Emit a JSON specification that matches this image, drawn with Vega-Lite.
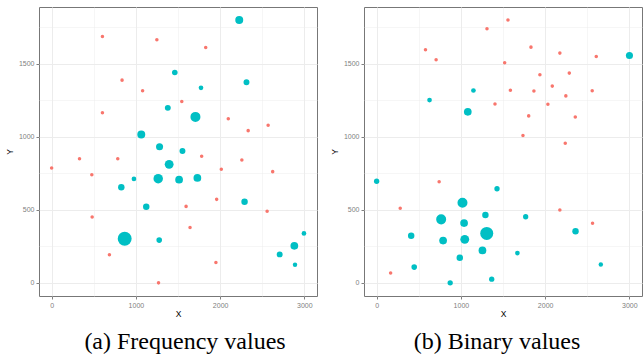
{
  "$schema": "https://vega.github.io/schema/vega-lite/v6.json",
  "padding": {"left": 4, "top": 6, "right": 0, "bottom": 0},
  "background": "white",
  "datasets": {
    "freq": [
      {"x": 603, "y": 1688, "g": "A", "w": 16},
      {"x": 1249, "y": 1666, "g": "A", "w": 16},
      {"x": 1829, "y": 1613, "g": "A", "w": 16},
      {"x": 836, "y": 1389, "g": "A", "w": 16},
      {"x": 1080, "y": 1316, "g": "A", "w": 16},
      {"x": 1545, "y": 1242, "g": "A", "w": 16},
      {"x": 603, "y": 1165, "g": "A", "w": 16},
      {"x": 2097, "y": 1124, "g": "A", "w": 16},
      {"x": 2570, "y": 1080, "g": "A", "w": 16},
      {"x": 2333, "y": 1043, "g": "A", "w": 16},
      {"x": 1781, "y": 867, "g": "A", "w": 16},
      {"x": 331, "y": 851, "g": "A", "w": 16},
      {"x": 785, "y": 851, "g": "A", "w": 16},
      {"x": 2258, "y": 842, "g": "A", "w": 16},
      {"x": 0, "y": 787, "g": "A", "w": 16},
      {"x": 2014, "y": 778, "g": "A", "w": 16},
      {"x": 2624, "y": 762, "g": "A", "w": 16},
      {"x": 477, "y": 741, "g": "A", "w": 16},
      {"x": 1596, "y": 524, "g": "A", "w": 16},
      {"x": 1959, "y": 572, "g": "A", "w": 16},
      {"x": 2558, "y": 490, "g": "A", "w": 16},
      {"x": 481, "y": 451, "g": "A", "w": 16},
      {"x": 1643, "y": 380, "g": "A", "w": 16},
      {"x": 686, "y": 192, "g": "A", "w": 16},
      {"x": 1950, "y": 140, "g": "A", "w": 16},
      {"x": 1269, "y": 0, "g": "A", "w": 16},
      {"x": 2227, "y": 1801, "g": "B", "w": 81},
      {"x": 1462, "y": 1441, "g": "B", "w": 40},
      {"x": 2313, "y": 1375, "g": "B", "w": 45},
      {"x": 1773, "y": 1336, "g": "B", "w": 28},
      {"x": 1379, "y": 1199, "g": "B", "w": 45},
      {"x": 1707, "y": 1137, "g": "B", "w": 128},
      {"x": 1064, "y": 1016, "g": "B", "w": 81},
      {"x": 1281, "y": 933, "g": "B", "w": 64},
      {"x": 1553, "y": 904, "g": "B", "w": 45},
      {"x": 1395, "y": 812, "g": "B", "w": 100},
      {"x": 977, "y": 712, "g": "B", "w": 28},
      {"x": 1265, "y": 714, "g": "B", "w": 114},
      {"x": 1513, "y": 707, "g": "B", "w": 76},
      {"x": 1730, "y": 719, "g": "B", "w": 76},
      {"x": 827, "y": 655, "g": "B", "w": 53},
      {"x": 1123, "y": 522, "g": "B", "w": 53},
      {"x": 2290, "y": 556, "g": "B", "w": 53},
      {"x": 867, "y": 302, "g": "B", "w": 246},
      {"x": 1277, "y": 293, "g": "B", "w": 40},
      {"x": 2995, "y": 339, "g": "B", "w": 28},
      {"x": 2881, "y": 254, "g": "B", "w": 76},
      {"x": 2707, "y": 195, "g": "B", "w": 45},
      {"x": 2889, "y": 124, "g": "B", "w": 25}
    ],
    "binary": [
      {"x": 1559, "y": 1801, "g": "A", "w": 16},
      {"x": 1310, "y": 1741, "g": "A", "w": 16},
      {"x": 580, "y": 1597, "g": "A", "w": 16},
      {"x": 706, "y": 1528, "g": "A", "w": 16},
      {"x": 1832, "y": 1615, "g": "A", "w": 16},
      {"x": 2175, "y": 1574, "g": "A", "w": 16},
      {"x": 2607, "y": 1551, "g": "A", "w": 16},
      {"x": 1520, "y": 1508, "g": "A", "w": 16},
      {"x": 1938, "y": 1426, "g": "A", "w": 16},
      {"x": 2287, "y": 1437, "g": "A", "w": 16},
      {"x": 2085, "y": 1348, "g": "A", "w": 16},
      {"x": 2246, "y": 1281, "g": "A", "w": 16},
      {"x": 1588, "y": 1320, "g": "A", "w": 16},
      {"x": 1867, "y": 1314, "g": "A", "w": 16},
      {"x": 2559, "y": 1316, "g": "A", "w": 16},
      {"x": 1405, "y": 1226, "g": "A", "w": 16},
      {"x": 2033, "y": 1224, "g": "A", "w": 16},
      {"x": 1805, "y": 1144, "g": "A", "w": 16},
      {"x": 2358, "y": 1137, "g": "A", "w": 16},
      {"x": 1737, "y": 1009, "g": "A", "w": 16},
      {"x": 2239, "y": 957, "g": "A", "w": 16},
      {"x": 742, "y": 693, "g": "A", "w": 16},
      {"x": 280, "y": 511, "g": "A", "w": 16},
      {"x": 2175, "y": 499, "g": "A", "w": 16},
      {"x": 2563, "y": 408, "g": "A", "w": 16},
      {"x": 166, "y": 67, "g": "A", "w": 16},
      {"x": 3001, "y": 1558, "g": "B", "w": 64},
      {"x": 1149, "y": 1318, "g": "B", "w": 28},
      {"x": 628, "y": 1252, "g": "B", "w": 28},
      {"x": 1082, "y": 1172, "g": "B", "w": 76},
      {"x": 0, "y": 696, "g": "B", "w": 36},
      {"x": 1429, "y": 645, "g": "B", "w": 36},
      {"x": 1019, "y": 549, "g": "B", "w": 128},
      {"x": 1291, "y": 465, "g": "B", "w": 53},
      {"x": 1769, "y": 453, "g": "B", "w": 36},
      {"x": 766, "y": 435, "g": "B", "w": 128},
      {"x": 1038, "y": 410, "g": "B", "w": 76},
      {"x": 410, "y": 323, "g": "B", "w": 53},
      {"x": 1307, "y": 339, "g": "B", "w": 216},
      {"x": 2361, "y": 353, "g": "B", "w": 53},
      {"x": 789, "y": 290, "g": "B", "w": 76},
      {"x": 1046, "y": 298, "g": "B", "w": 100},
      {"x": 1256, "y": 222, "g": "B", "w": 76},
      {"x": 1671, "y": 204, "g": "B", "w": 28},
      {"x": 987, "y": 172, "g": "B", "w": 53},
      {"x": 2661, "y": 126, "g": "B", "w": 25},
      {"x": 446, "y": 108, "g": "B", "w": 40},
      {"x": 1366, "y": 25, "g": "B", "w": 36},
      {"x": 873, "y": 0, "g": "B", "w": 36}
    ]
  },
  "spacing": 11,
  "hconcat": [
    {
      "width": 278,
      "height": 289,
      "data": {"name": "freq"},
      "title": {"text": "(a) Frequency values", "orient": "bottom", "dx": 7},
      "mark": {"type": "circle", "opacity": 1},
      "encoding": {
        "x": {"field": "x", "type": "quantitative", "title": "X",
          "scale": {"domain": [-150, 3150], "nice": false, "zero": false},
          "axis": {"values": [0, 500, 1000, 1500, 2000, 2500, 3000], "format": "d",
            "labelExpr": "datum.value % 1000 === 0 ? datum.label : ''",
            "tickOpacity": {"condition": {"test": "datum.value % 1000 !== 0", "value": 0}, "value": 1},
            "gridWidth": {"condition": {"test": "datum.value % 1000 !== 0", "value": 0.5}, "value": 1}}},
        "y": {"field": "y", "type": "quantitative", "title": "Y",
          "scale": {"domain": [-90, 1890], "nice": false, "zero": false},
          "axis": {"values": [0, 250, 500, 750, 1000, 1250, 1500, 1750], "format": "d",
            "labelExpr": "datum.value % 500 === 0 ? datum.label : ''",
            "tickOpacity": {"condition": {"test": "datum.value % 500 !== 0", "value": 0}, "value": 1},
            "gridWidth": {"condition": {"test": "datum.value % 500 !== 0", "value": 0.5}, "value": 1}}},
        "color": {"field": "g", "type": "nominal", "legend": null,
          "scale": {"domain": ["A", "B"], "range": ["#F8766D", "#00BFC4"]}},
        "size": {"field": "w", "type": "quantitative", "legend": null,
          "scale": {"domain": [0, 250], "range": [0, 196], "zero": true}}
      }
    },
    {
      "width": 278,
      "height": 289,
      "data": {"name": "binary"},
      "title": {"text": "(b) Binary values", "orient": "bottom", "dx": -6},
      "mark": {"type": "circle", "opacity": 1},
      "encoding": {
        "x": {"field": "x", "type": "quantitative", "title": "X",
          "scale": {"domain": [-150, 3150], "nice": false, "zero": false},
          "axis": {"values": [0, 500, 1000, 1500, 2000, 2500, 3000], "format": "d",
            "labelExpr": "datum.value % 1000 === 0 ? datum.label : ''",
            "tickOpacity": {"condition": {"test": "datum.value % 1000 !== 0", "value": 0}, "value": 1},
            "gridWidth": {"condition": {"test": "datum.value % 1000 !== 0", "value": 0.5}, "value": 1}}},
        "y": {"field": "y", "type": "quantitative", "title": "Y",
          "scale": {"domain": [-90, 1890], "nice": false, "zero": false},
          "axis": {"values": [0, 250, 500, 750, 1000, 1250, 1500, 1750], "format": "d",
            "labelExpr": "datum.value % 500 === 0 ? datum.label : ''",
            "tickOpacity": {"condition": {"test": "datum.value % 500 !== 0", "value": 0}, "value": 1},
            "gridWidth": {"condition": {"test": "datum.value % 500 !== 0", "value": 0.5}, "value": 1}}},
        "color": {"field": "g", "type": "nominal", "legend": null,
          "scale": {"domain": ["A", "B"], "range": ["#F8766D", "#00BFC4"]}},
        "size": {"field": "w", "type": "quantitative", "legend": null,
          "scale": {"domain": [0, 250], "range": [0, 196], "zero": true}}
      }
    }
  ],
  "config": {
    "view": {"stroke": "#777777", "strokeWidth": 1},
    "axis": {
      "domain": false,
      "labelFont": "Liberation Sans", "labelFontSize": 7, "labelColor": "#808080", "labelPadding": 2,
      "titleFont": "Liberation Sans", "titleFontSize": 8.5, "titleFontWeight": "normal", "titleColor": "#000000",
      "tickColor": "#808080", "tickSize": 3,
      "gridColor": "#ececec"
    },
    "axisX": {"titlePadding": 1},
    "axisY": {"titlePadding": 4},
    "title": {"font": "Liberation Serif", "fontSize": 24, "fontWeight": "normal", "color": "#000000", "offset": 12, "anchor": "middle"}
  }
}
